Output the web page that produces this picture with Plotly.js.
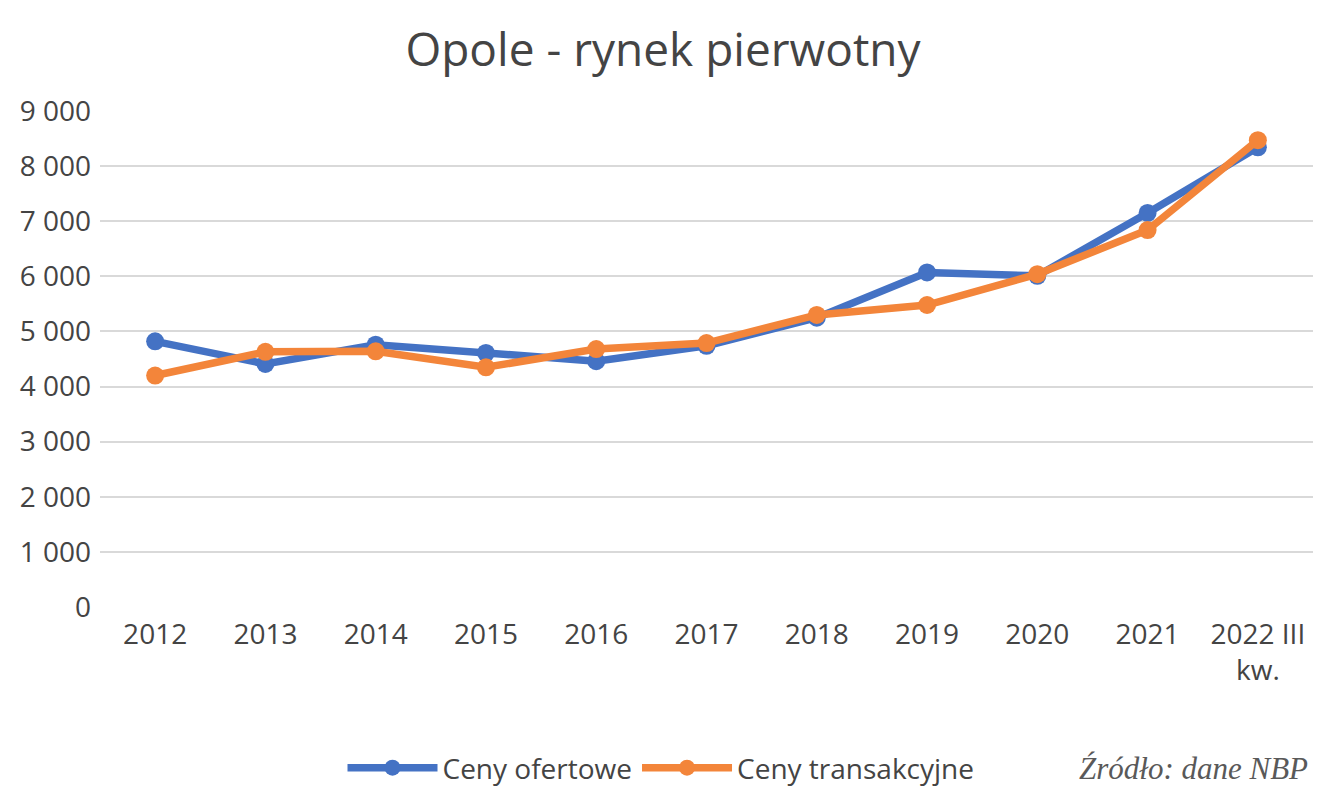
<!DOCTYPE html>
<html>
<head>
<meta charset="utf-8">
<script src="https://cdn.plot.ly/plotly-3.0.1.min.js"></script>
<style>
  html, body { margin: 0; padding: 0; background: #ffffff; }
  #chart { width: 1330px; height: 790px; }
</style>
</head>
<body>
<div id="chart"></div>
<script>
// Average price per m² on the primary housing market in Opole (PLN)
const years = ['2012', '2013', '2014', '2015', '2016', '2017', '2018', '2019', '2020', '2021', '2022 III<br>kw.'];
const cenyOfertowe = [4820, 4410, 4760, 4610, 4460, 4740, 5250, 6070, 6010, 7150, 8340];
const cenyTransakcyjne = [4200, 4630, 4640, 4350, 4680, 4790, 5300, 5480, 6040, 6840, 8470];
const yTicks = [0, 1000, 2000, 3000, 4000, 5000, 6000, 7000, 8000, 9000];

const blue = '#4472C4';
const orange = '#F3853A';
const textGrey = '#444444';

const traces = [
  {
    x: years, y: cenyOfertowe, name: 'Ceny ofertowe',
    type: 'scatter', mode: 'lines+markers',
    line: { color: blue, width: 7.5 },
    marker: { color: blue, size: 18 }
  },
  {
    x: years, y: cenyTransakcyjne, name: 'Ceny transakcyjne',
    type: 'scatter', mode: 'lines+markers',
    line: { color: orange, width: 7.5 },
    marker: { color: orange, size: 18 }
  }
];

const layout = {
  width: 1330, height: 790,
  paper_bgcolor: '#ffffff', plot_bgcolor: '#ffffff',
  separators: ', ',
  margin: { l: 100, r: 17, t: 111, b: 183 },
  font: { family: 'Open Sans, sans-serif', color: textGrey },
  title: {
    text: 'Opole - rynek pierwotny',
    font: { family: 'Open Sans, sans-serif', size: 46, color: textGrey },
    x: 663 / 1330, xref: 'container', xanchor: 'center',
    y: 1 - 50 / 790, yref: 'container', yanchor: 'middle'
  },
  xaxis: {
    type: 'category',
    range: [-0.5, years.length - 0.5],
    showgrid: false, zeroline: false, showline: false,
    ticks: '',
    ticklabelstandoff: 8,
    tickfont: { size: 28, color: textGrey }
  },
  yaxis: {
    range: [0, 9000],
    tickvals: yTicks,
    tickformat: ',d',
    showgrid: true, gridcolor: '#d9d9d9', gridwidth: 2,
    zeroline: false, showline: false, ticks: '',
    ticklabelstandoff: 8,
    tickfont: { size: 28, color: textGrey }
  },
  showlegend: true,
  legend: {
    orientation: 'h',
    xref: 'container', x: 661 / 1330, xanchor: 'center',
    yref: 'container', y: 22 / 790, yanchor: 'middle',
    font: { size: 28, color: textGrey },
    itemwidth: 90
  },
  annotations: [
    {
      text: 'Źródło: dane NBP',
      xref: 'paper', yref: 'paper',
      x: (1310 - 100) / 1213, y: (607 - 768) / 496,
      xanchor: 'right', yanchor: 'middle',
      showarrow: false,
      font: { family: 'Liberation Serif, serif', size: 31, color: '#595959', style: 'italic' }
    }
  ]
};

Plotly.newPlot('chart', traces, layout, { displayModeBar: false, staticPlot: true });
</script>
</body>
</html>
